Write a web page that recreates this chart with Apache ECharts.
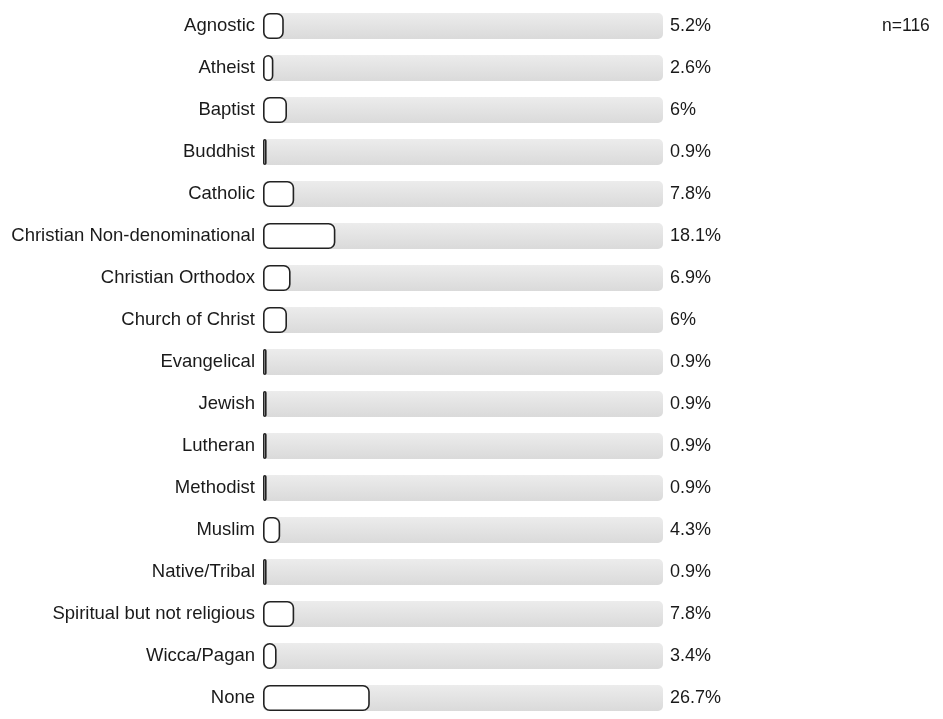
<!DOCTYPE html>
<html>
<head>
<meta charset="utf-8">
<style>
  html, body { margin: 0; padding: 0; background: #fff; }
  #chart { width: 943px; height: 719px; }
</style>
<script src="https://cdn.jsdelivr.net/npm/echarts@6/dist/echarts.min.js"></script>
</head>
<body>
<div id="chart"></div>
<script>
// Religious affiliation of respondents (percent of total)
const categories = [
  'Agnostic', 'Atheist', 'Baptist', 'Buddhist', 'Catholic',
  'Christian Non-denominational', 'Christian Orthodox', 'Church of Christ',
  'Evangelical', 'Jewish', 'Lutheran', 'Methodist', 'Muslim',
  'Native/Tribal', 'Spiritual but not religious', 'Wicca/Pagan', 'None'
];
const percents = [5.2, 2.6, 6, 0.9, 7.8, 18.1, 6.9, 6, 0.9, 0.9, 0.9, 0.9, 4.3, 0.9, 7.8, 3.4, 26.7];
const trackMax = categories.map(() => 100);
const sampleNote = 'n=116';

const FONT = '"Liberation Sans", Arial, sans-serif';

const chart = echarts.init(document.getElementById('chart'));
chart.setOption({
  animation: false,
  grid: { left: 263, top: 5, width: 400, height: 724 },
  xAxis: { type: 'value', min: 0, max: 100, show: false },
  yAxis: {
    type: 'category',
    data: categories,
    inverse: true,
    axisLine: { show: false },
    axisTick: { show: false },
    splitLine: { show: false },
    axisLabel: {
      margin: 8,
      fontFamily: FONT,
      fontSize: 18.5,
      color: '#1a1a1a'
    }
  },
  graphic: [{
    type: 'text',
    left: 882,
    top: 17,
    style: {
      text: sampleNote,
      font: '17.5px ' + FONT,
      fill: '#1a1a1a'
    }
  }],
  series: [
    {
      type: 'bar',
      data: trackMax,
      barWidth: 26,
      barGap: '-100%',
      silent: true,
      itemStyle: {
        borderRadius: 5,
        color: new echarts.graphic.LinearGradient(0, 0, 0, 1, [
          { offset: 0, color: '#ececec' },
          { offset: 1, color: '#dadada' }
        ])
      },
      label: {
        show: true,
        position: 'right',
        distance: 7,
        fontFamily: FONT,
        fontSize: 18,
        color: '#1a1a1a',
        formatter: p => percents[p.dataIndex] + '%'
      },
      z: 1
    },
    {
      type: 'bar',
      data: percents,
      barWidth: 26,
      barGap: '-100%',
      itemStyle: {
        color: '#ffffff',
        borderColor: '#222',
        borderWidth: 1.6,
        borderRadius: 6
      },
      z: 2
    }
  ]
});
</script>
</body>
</html>
